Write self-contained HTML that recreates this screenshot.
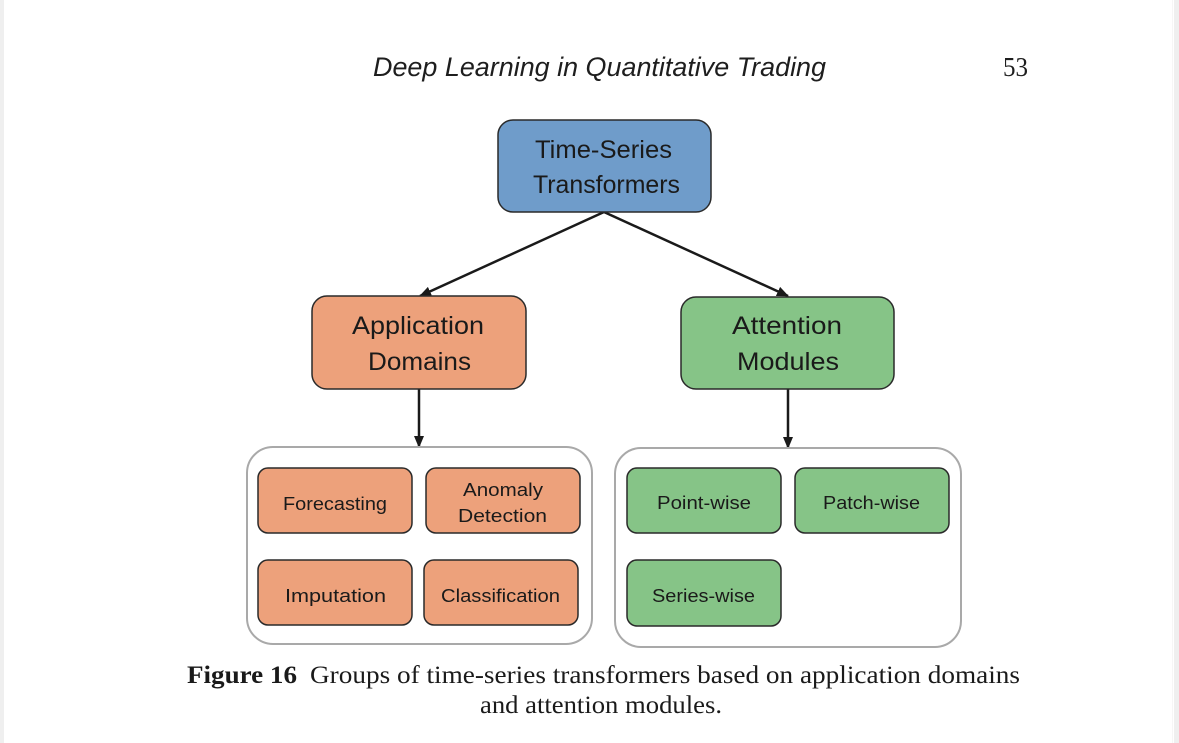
<!DOCTYPE html>
<html><head><meta charset="utf-8"><style>
html,body{margin:0;padding:0;background:#fff;}
svg{display:block;}
</style></head><body>
<svg width="1179" height="743" viewBox="0 0 1179 743" xmlns="http://www.w3.org/2000/svg">
<rect x="0" y="0" width="1179" height="743" fill="#ffffff"/>
<rect x="0" y="0" width="4" height="743" fill="#efefef"/>
<rect x="1174" y="0" width="5" height="743" fill="#efefef"/>
<line x1="1172.5" y1="0" x2="1172.5" y2="743" stroke="#f6f6f6" stroke-width="1"/>

<!-- header -->
<text x="373" y="76" font-family="Liberation Sans, sans-serif" font-style="italic" font-size="27" fill="#1e1e1e" textLength="453" lengthAdjust="spacingAndGlyphs">Deep Learning in Quantitative Trading</text>
<text x="1003" y="76" font-family="Liberation Serif, serif" font-size="27" fill="#1e1e1e" textLength="25" lengthAdjust="spacingAndGlyphs">53</text>

<defs>
<marker id="ah" markerWidth="12" markerHeight="10" refX="11" refY="5" orient="auto" markerUnits="userSpaceOnUse">
<path d="M0,0 L12,5 L0,10 z" fill="#1a1a1a"/>
</marker>
</defs>

<!-- connectors -->
<line x1="604" y1="212" x2="420" y2="296" stroke="#1a1a1a" stroke-width="2.5" marker-end="url(#ah)"/>
<line x1="604" y1="212" x2="788" y2="296" stroke="#1a1a1a" stroke-width="2.5" marker-end="url(#ah)"/>
<line x1="419" y1="389" x2="419" y2="447" stroke="#1a1a1a" stroke-width="2.5" marker-end="url(#ah)"/>
<line x1="788" y1="389" x2="788" y2="448" stroke="#1a1a1a" stroke-width="2.5" marker-end="url(#ah)"/>

<!-- top box -->
<rect x="498" y="120" width="213" height="92" rx="15" fill="#6f9cca" stroke="#2a2a2a" stroke-width="1.5"/>
<g font-family="Liberation Sans, sans-serif" fill="#1a1a1a">
<text x="535" y="158" font-size="25" textLength="137" lengthAdjust="spacingAndGlyphs">Time-Series</text>
<text x="533" y="193" font-size="25" textLength="147" lengthAdjust="spacingAndGlyphs">Transformers</text>
</g>

<!-- mid boxes -->
<rect x="312" y="296" width="214" height="93" rx="15" fill="#eda17b" stroke="#2a2a2a" stroke-width="1.5"/>
<rect x="681" y="297" width="213" height="92" rx="15" fill="#86c487" stroke="#2a2a2a" stroke-width="1.5"/>
<g font-family="Liberation Sans, sans-serif" fill="#1a1a1a" font-size="25">
<text x="352" y="334" textLength="132" lengthAdjust="spacingAndGlyphs">Application</text>
<text x="368" y="370" textLength="103" lengthAdjust="spacingAndGlyphs">Domains</text>
<text x="732" y="334" textLength="110" lengthAdjust="spacingAndGlyphs">Attention</text>
<text x="737" y="370" textLength="102" lengthAdjust="spacingAndGlyphs">Modules</text>
</g>

<!-- containers -->
<rect x="247" y="447" width="345" height="197" rx="26" fill="#ffffff" stroke="#a9a9a9" stroke-width="2"/>
<rect x="615" y="448" width="346" height="199" rx="26" fill="#ffffff" stroke="#a9a9a9" stroke-width="2"/>

<!-- inner boxes left -->
<g stroke="#2a2a2a" stroke-width="1.5" fill="#eda17b">
<rect x="258" y="468" width="154" height="65" rx="10"/>
<rect x="426" y="468" width="154" height="65" rx="10"/>
<rect x="258" y="560" width="154" height="65" rx="10"/>
<rect x="424" y="560" width="154" height="65" rx="10"/>
</g>
<!-- inner boxes right -->
<g stroke="#2a2a2a" stroke-width="1.5" fill="#86c487">
<rect x="627" y="468" width="154" height="65" rx="10"/>
<rect x="795" y="468" width="154" height="65" rx="10"/>
<rect x="627" y="560" width="154" height="66" rx="10"/>
</g>

<g font-family="Liberation Sans, sans-serif" fill="#1a1a1a" font-size="18">
<text x="283" y="510" textLength="104" lengthAdjust="spacingAndGlyphs">Forecasting</text>
<text x="463" y="496" textLength="80" lengthAdjust="spacingAndGlyphs">Anomaly</text>
<text x="458" y="522" textLength="89" lengthAdjust="spacingAndGlyphs">Detection</text>
<text x="285" y="602" textLength="101" lengthAdjust="spacingAndGlyphs">Imputation</text>
<text x="441" y="602" textLength="119" lengthAdjust="spacingAndGlyphs">Classification</text>
<text x="657" y="509" textLength="94" lengthAdjust="spacingAndGlyphs">Point-wise</text>
<text x="823" y="509" textLength="97" lengthAdjust="spacingAndGlyphs">Patch-wise</text>
<text x="652" y="602" textLength="103" lengthAdjust="spacingAndGlyphs">Series-wise</text>
</g>

<!-- caption -->
<g font-family="Liberation Serif, serif" fill="#1a1a1a" font-size="25">
<text x="187" y="683" font-weight="bold" textLength="110" lengthAdjust="spacingAndGlyphs">Figure 16</text>
<text x="310" y="683" textLength="710" lengthAdjust="spacingAndGlyphs">Groups of time-series transformers based on application domains</text>
<text x="480" y="713" textLength="242" lengthAdjust="spacingAndGlyphs">and attention modules.</text>
</g>
</svg>
</body></html>
